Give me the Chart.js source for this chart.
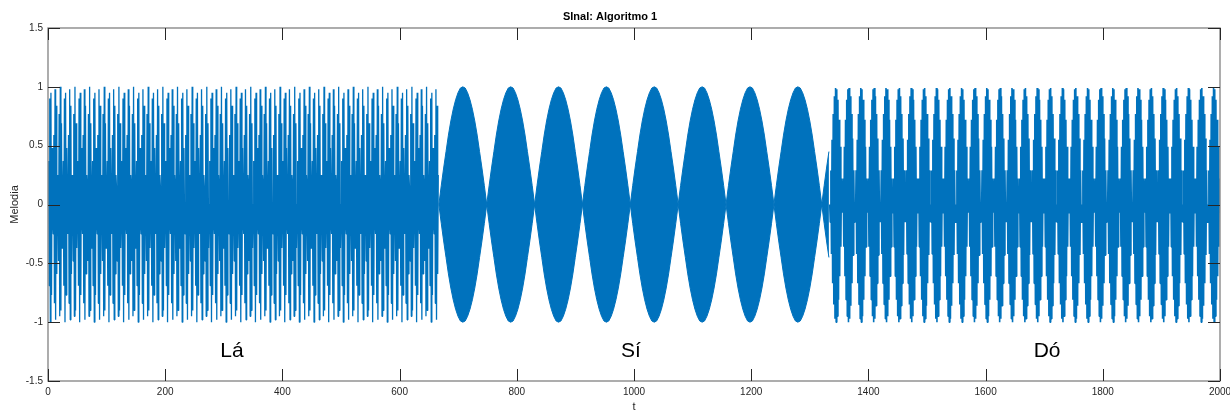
<!DOCTYPE html>
<html>
<head>
<meta charset="utf-8">
<script src="https://cdn.jsdelivr.net/npm/chart.js@4/dist/chart.umd.min.js"></script>
<style>
  html, body { margin: 0; padding: 0; background: #fff; }
  #wrap { width: 1230px; height: 410px; }
</style>
</head>
<body>
<div id="wrap"><canvas id="sinal"></canvas></div>
<script>
const xTicks = [0, 200, 400, 600, 800, 1000, 1200, 1400, 1600, 1800, 2000];
const yTicks = [-1.5, -1, -0.5, 0, 0.5, 1, 1.5];

const noteLabels = ['Lá', 'Sí', 'Dó'];
const noteLabelT = [294, 978, 1682];
const noteLabelY = [-1.25, -1.25, -1.25];

// Lá: samples 0..666, the stroke pattern repeats every 25 samples
const laRange = [0, 666];
const laCycle = [0, 0.37, -0.69, 0.9, -1, 0.95, -0.77, 0.48, -0.13, -0.25, 0.59, -0.84, 0.98,
  -0.98, 0.84, -0.59, 0.25, 0.13, -0.48, 0.77, -0.95, 1, -0.9, 0.69, -0.37];

// Sí: samples 667..1333, solid lobes between these nodes
const siNodes = [667, 748.7, 830.4, 912, 993.7, 1075.4, 1157.1, 1238.8, 1320.4];
const siEnd = 1333;
const siLobe = [0, 0.16, 0.31, 0.45, 0.59, 0.71, 0.81, 0.89, 0.95, 0.99, 1,
  0.99, 0.95, 0.89, 0.81, 0.71, 0.59, 0.45, 0.31, 0.16, 0];

// Dó: samples 1334..2000, pattern repeats every 43 samples (two lobes)
const doRange = [1334, 2000];
const doCycle = [0, -0.15, 0.29, -0.42, 0.55, -0.67, 0.77, -0.85, 0.92, -0.97, 0.99, -1, 0.98,
  -0.95, 0.89, -0.81, 0.72, -0.61, 0.49, -0.36, 0.22, -0.07, -0.07, 0.22, -0.36, 0.49, -0.61,
  0.72, -0.81, 0.89, -0.95, 0.98, -1, 0.99, -0.97, 0.92, -0.86, 0.77, -0.67, 0.56, -0.43, 0.29, -0.15];

const blue = '#0072BD';
const axisGray = '#262626';
const fontFam = '"Liberation Sans", Arial, Helvetica, sans-serif';

function tiled(range, cycle) {
  const pts = [];
  for (let t = range[0]; t <= range[1]; t++) {
    pts.push({ x: t, y: cycle[(t - range[0]) % cycle.length] });
  }
  return pts;
}

// edge of the Sí lobes, last lobe is cut at siEnd
function siEnvelope(sign) {
  const pts = [];
  for (let i = 0; i < siNodes.length; i++) {
    const a = siNodes[i];
    const b = i + 1 < siNodes.length ? siNodes[i + 1] : a + (a - siNodes[i - 1]);
    for (let k = (i == 0 ? 0 : 1); k < siLobe.length; k++) {
      const t = a + (b - a) * k / (siLobe.length - 1);
      if (t > siEnd) break;
      pts.push({ x: t, y: sign * siLobe[k] });
    }
  }
  return pts;
}

const laPts = tiled(laRange, laCycle);
const doPts = tiled(doRange, doCycle);
const siUpper = siEnvelope(1);
const siLower = siEnvelope(-1);

const zig = {
  borderColor: blue,
  borderWidth: 1.6,
  borderJoinStyle: 'bevel',
  pointRadius: 0,
  fill: false,
  tension: 0,
};

const matlabAxes = {
  id: 'matlabAxes',
  afterDatasetsDraw(chart) {
    const { ctx, chartArea: a, scales: { x, y } } = chart;
    ctx.save();
    // box
    ctx.strokeStyle = '#8a8a8a';
    ctx.lineWidth = 1.4;
    ctx.strokeRect(a.left, a.top, a.right - a.left, a.bottom - a.top);
    // ticks inside, on all four sides
    ctx.strokeStyle = axisGray;
    ctx.lineWidth = 1;
    ctx.beginPath();
    xTicks.forEach(v => {
      const px = Math.round(x.getPixelForValue(v)) + 0.5;
      ctx.moveTo(px, a.bottom); ctx.lineTo(px, a.bottom - 12);
      ctx.moveTo(px, a.top); ctx.lineTo(px, a.top + 12);
    });
    yTicks.forEach(v => {
      const py = Math.round(y.getPixelForValue(v)) + 0.5;
      ctx.moveTo(a.left, py); ctx.lineTo(a.left + 12, py);
      ctx.moveTo(a.right, py); ctx.lineTo(a.right - 12, py);
    });
    ctx.stroke();
    // note names
    ctx.fillStyle = '#000';
    ctx.font = '21px ' + fontFam;
    ctx.textAlign = 'left';
    ctx.textBaseline = 'middle';
    noteLabels.forEach((s, i) => {
      ctx.fillText(s, x.getPixelForValue(noteLabelT[i]), y.getPixelForValue(noteLabelY[i]));
    });
    ctx.restore();
  }
};

const ctx = document.getElementById('sinal').getContext('2d');
new Chart(ctx, {
  type: 'line',
  data: {
    datasets: [
      { ...zig, data: laPts, borderWidth: 1.3 },
      { ...zig, data: siUpper, fill: '+1', backgroundColor: blue, borderWidth: 1 },
      { ...zig, data: siLower, borderWidth: 1 },
      { ...zig, data: doPts },
    ]
  },
  options: {
    responsive: true,
    maintainAspectRatio: false,
    animation: false,
    events: [],
    layout: { padding: { left: 0, right: 10, top: 0, bottom: 0 } },
    plugins: {
      legend: { display: false },
      tooltip: { enabled: false },
      title: {
        display: true,
        text: 'SInal: Algoritmo 1',
        color: '#000',
        font: { family: fontFam, size: 11, weight: 'bold' },
        padding: { top: 10, bottom: 4.8 },
      },
    },
    scales: {
      x: {
        type: 'linear',
        min: 0,
        max: 2000,
        afterFit(scale) {
          scale.height = 29;
          scale.paddingLeft = 0;
          scale.paddingRight = 0;
        },
        grid: { display: false, drawTicks: false },
        border: { display: false },
        ticks: {
          stepSize: 200,
          padding: 5,
          color: axisGray,
          font: { family: fontFam, size: 10 },
          maxRotation: 0,
          callback: (v) => String(v),
        },
        title: {
          display: true,
          text: 't',
          color: axisGray,
          font: { family: fontFam, size: 11 },
          padding: { top: 0, bottom: -4 },
        },
      },
      y: {
        min: -1.5,
        max: 1.5,
        afterFit(scale) {
          scale.width = 48;
          scale.paddingTop = 0;
          scale.paddingBottom = 0;
        },
        grid: { display: false, drawTicks: false },
        border: { display: false },
        ticks: {
          stepSize: 0.5,
          padding: 5,
          color: axisGray,
          font: { family: fontFam, size: 10 },
          callback: (v) => String(v),
        },
        title: {
          display: true,
          text: 'Melodia',
          color: axisGray,
          font: { family: fontFam, size: 11 },
          padding: { top: 8, bottom: 0 },
        },
      },
    },
  },
  plugins: [matlabAxes],
});
</script>
</body>
</html>
